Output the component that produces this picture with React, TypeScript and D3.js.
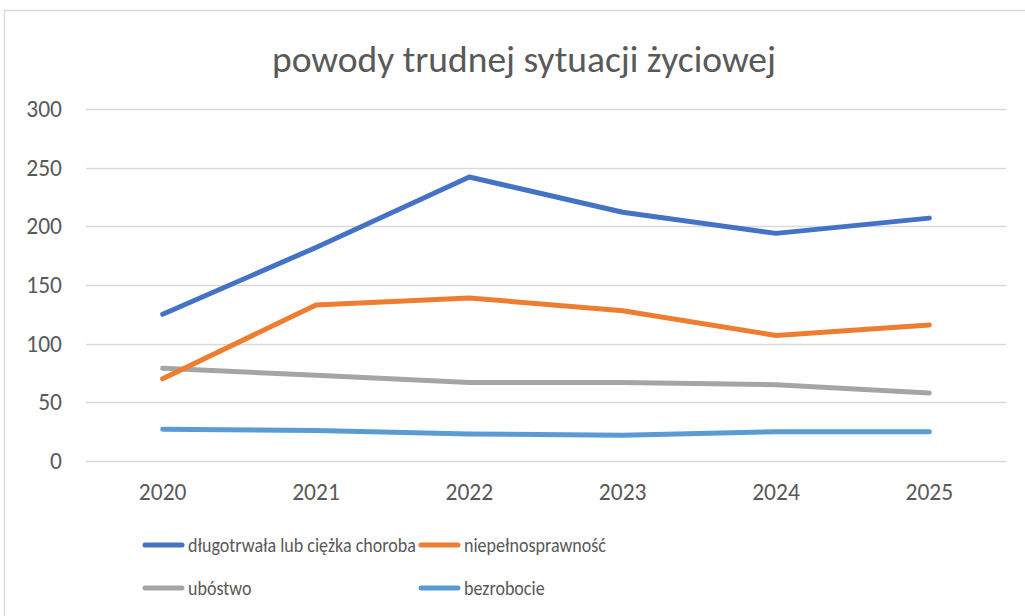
import React, { useEffect, useRef } from "react";
import * as d3 from "d3";

const years = ["2020", "2021", "2022", "2023", "2024", "2025"];
const chorobaValues = [125, 182, 242, 212, 194, 207];
const niepelnosprawnoscValues = [70, 133, 139, 128, 107, 116];
const ubostwoValues = [79, 73, 67, 67, 65, 58];
const bezrobocieValues = [27, 26, 23, 22, 25, 25];
const yTicks = [0, 50, 100, 150, 200, 250, 300];

const seriesNames = [
  "długotrwała lub ciężka choroba",
  "niepełnosprawność",
  "ubóstwo",
  "bezrobocie",
];
const seriesColors = ["#4472C4", "#ED7D31", "#A5A5A5", "#5B9BD5"];

export default function App() {
  const svgRef = useRef<SVGSVGElement>(null);
  const width = 1025;
  const height = 616;

  useEffect(() => {
    const svg = d3.select(svgRef.current);
    svg.selectAll("*").remove();

    const font = "Carlito, 'Open Sans', 'Liberation Sans', sans-serif";
    const margin = { top: 109, right: 19, bottom: 155, left: 86 };

    const series = [
      chorobaValues,
      niepelnosprawnoscValues,
      ubostwoValues,
      bezrobocieValues,
    ].map((values, i) => ({
      name: seriesNames[i],
      color: seriesColors[i],
      points: years.map((year, j) => ({ year, value: values[j] })),
    }));

    const x = d3
      .scaleBand()
      .domain(years)
      .range([margin.left, width - margin.right])
      .padding(0);

    const y = d3
      .scaleLinear()
      .domain([0, 300])
      .range([height - margin.bottom, margin.top]);

    // chart frame (cut off at right and bottom)
    svg
      .append("rect")
      .attr("x", 4.5)
      .attr("y", 10.5)
      .attr("width", 1100)
      .attr("height", 700)
      .attr("fill", "white")
      .attr("stroke", "#D9D9D9")
      .attr("stroke-width", 1.5);

    // title
    svg
      .append("text")
      .attr("x", 524)
      .attr("y", 72)
      .attr("text-anchor", "middle")
      .attr("font-family", font)
      .attr("font-size", 37.5)
      .attr("fill", "#595959")
      .text("powody trudnej sytuacji życiowej");

    // grid lines
    svg
      .append("g")
      .selectAll("line")
      .data(yTicks)
      .join("line")
      .attr("x1", margin.left)
      .attr("x2", width - margin.right)
      .attr("y1", (d) => Math.round(y(d)) + 0.5)
      .attr("y2", (d) => Math.round(y(d)) + 0.5)
      .attr("stroke", "#D9D9D9")
      .attr("stroke-width", 1.5);

    // y tick labels
    svg
      .append("g")
      .selectAll("text")
      .data(yTicks)
      .join("text")
      .attr("x", 62)
      .attr("y", (d) => y(d) + 8)
      .attr("text-anchor", "end")
      .attr("font-family", font)
      .attr("font-size", 23.5)
      .attr("fill", "#595959")
      .text((d) => d);

    // x tick labels
    svg
      .append("g")
      .selectAll("text")
      .data(years)
      .join("text")
      .attr("x", (d) => x(d)! + x.bandwidth() / 2)
      .attr("y", 500)
      .attr("text-anchor", "middle")
      .attr("font-family", font)
      .attr("font-size", 23.5)
      .attr("fill", "#595959")
      .text((d) => d);

    const line = d3
      .line<{ year: string; value: number }>()
      .x((d) => x(d.year)! + x.bandwidth() / 2)
      .y((d) => y(d.value));

    series
      .slice()
      .reverse()
      .forEach((s) => {
        svg
          .append("path")
          .datum(s.points)
          .attr("fill", "none")
          .attr("stroke", s.color)
          .attr("stroke-width", 5)
          .attr("stroke-linecap", "round")
          .attr("stroke-linejoin", "round")
          .attr("d", line);
      });

    // legend
    const legendPos = [
      { x: 145, y: 545 },
      { x: 421, y: 545 },
      { x: 145, y: 588 },
      { x: 421, y: 588 },
    ];
    const legend = svg
      .append("g")
      .selectAll("g")
      .data(series)
      .join("g")
      .attr("transform", (d, i) => `translate(${legendPos[i].x},${legendPos[i].y})`);

    legend
      .append("line")
      .attr("x1", 0)
      .attr("x2", 37)
      .attr("y1", 0)
      .attr("y2", 0)
      .attr("stroke", (d) => d.color)
      .attr("stroke-width", 5)
      .attr("stroke-linecap", "round");

    legend
      .append("text")
      .attr("transform", "translate(43,7) scale(0.88,1)")
      .attr("font-family", font)
      .attr("font-size", 20.5)
      .attr("fill", "#595959")
      .text((d) => d.name);
  }, []);

  return (
    <svg
      ref={svgRef}
      width={width}
      height={height}
      style={{ position: "absolute", left: 0, top: 0 }}
    ></svg>
  );
}
